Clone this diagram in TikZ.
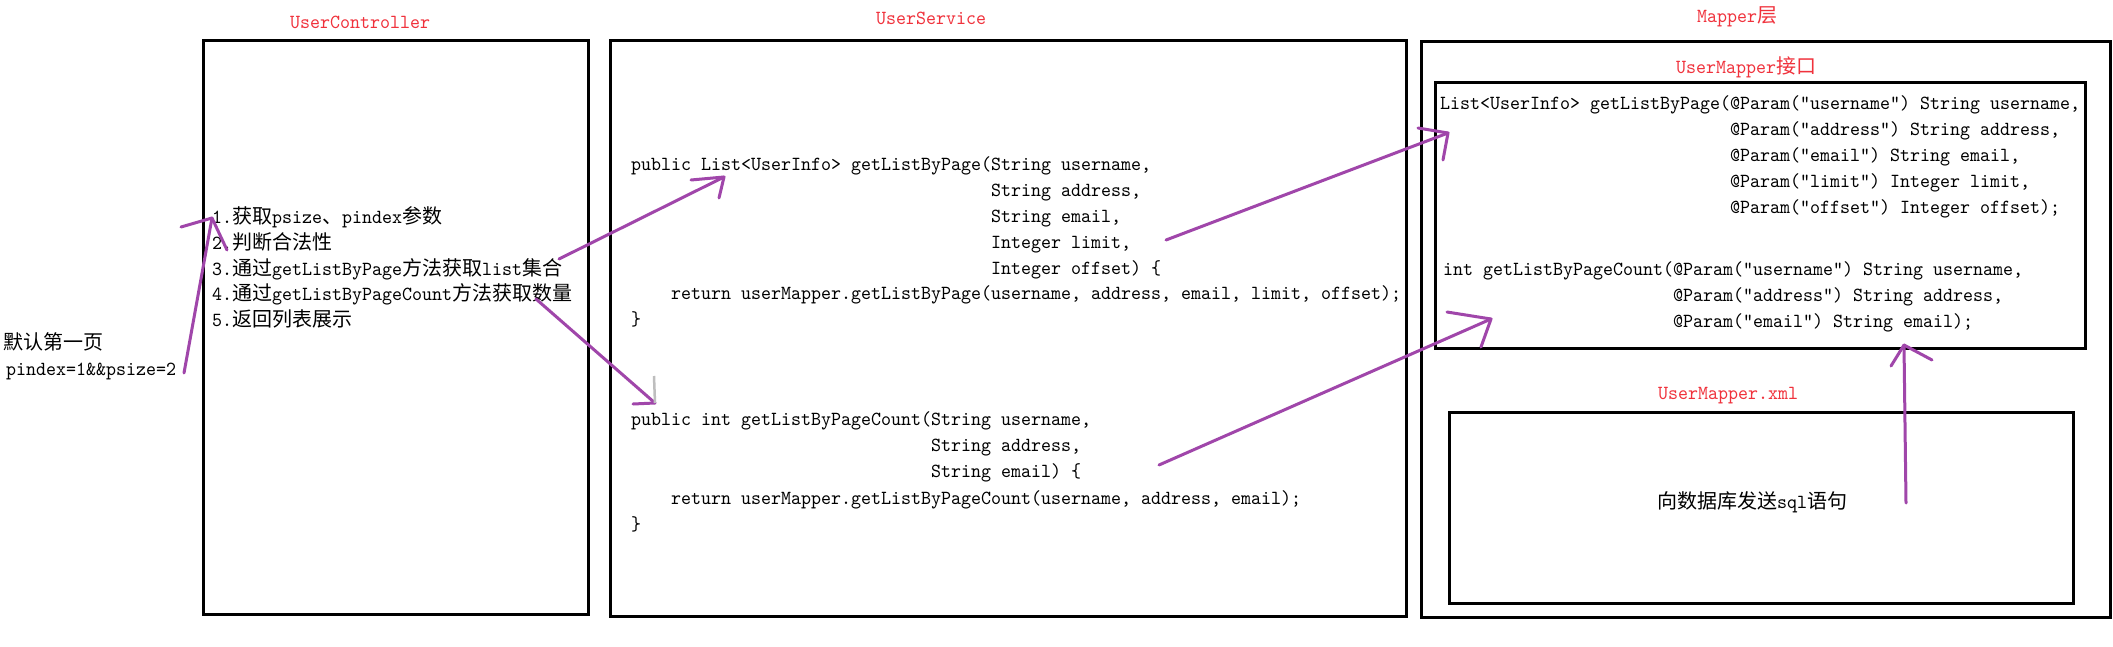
\documentclass[tikz,border=0pt]{standalone}
\usepackage{fontspec}
\setmonofont[FakeStretch=0.9524]{lmmono10-regular.otf}
\newfontfamily\cjk{Noto Sans CJK SC}
\definecolor{lblred}{RGB}{240,50,60}
\definecolor{arrpurple}{RGB}{160,70,170}
\definecolor{cursorgray}{RGB}{190,190,190}
\tikzset{
  box/.style={draw=black,line width=3pt},
  code/.style={font=\ttfamily\fontsize{20}{26}\selectfont,inner sep=0pt,anchor=base west},
  lbl/.style={font=\ttfamily\fontsize{20}{26}\selectfont,text=lblred,inner sep=0pt,anchor=center},
  arr/.style={draw=arrpurple,line width=3pt,line cap=round,line join=round},
}
\begin{document}
\begin{tikzpicture}[x=1pt,y=-1pt]
\useasboundingbox (0,0) rectangle (2113,646);
\fill[white] (0,0) rectangle (2113,646);

% boxes
\draw[box] (203,40) rectangle (588,614);
\draw[box] (610,40) rectangle (1406,616);
\draw[box] (1421,41) rectangle (2110,617);
\draw[box] (1435,82) rectangle (2085,348);
\draw[box] (1449,412) rectangle (2073,603);

% labels
\node[lbl] (lctrl) at (360,22) {UserController};
\node[lbl] (lsvc) at (931,18) {UserService};
\node[lbl] (lmap) at (1737,17) {Mapper{\cjk 层}};
\node[lbl] (liface) at (1746,67) {UserMapper{\cjk 接口}};
\node[lbl] (lxml) at (1728,396) {UserMapper.xml};

% left notes
\node[code] (n1) at (3,349) {\cjk 默认第一页};
\node[code] (n2) at (6,375) {pindex=1\&\&psize=2};

% controller steps
\node[code] (s1) at (212,223) {1.{\cjk 获取}psize{\cjk 、}pindex{\cjk 参数}};
\node[code] (s2) at (212,249) {2.{\cjk 判断合法性}};
\node[code] (s3) at (212,275) {3.{\cjk 通过}getListByPage{\cjk 方法获取}list{\cjk 集合}};
\node[code] (s4) at (212,300) {4.{\cjk 通过}getListByPageCount{\cjk 方法获取数量}};
\node[code] (s5) at (212,326) {5.{\cjk 返回列表展示}};

% service code 1
\node[code] (a1) at (631,170) {public List<UserInfo> getListByPage(String username,};
\node[code] (a2) at (991,196) {String address,};
\node[code] (a3) at (991,222) {String email,};
\node[code] (a4) at (991,248) {Integer limit,};
\node[code] (a5) at (991,274) {Integer offset) \{};
\node[code] (a6) at (671,299) {return userMapper.getListByPage(username, address, email, limit, offset);};
\node[code] (a7) at (631,325) {\}};

% service code 2
\node[code] (b1) at (631,425) {public int getListByPageCount(String username,};
\node[code] (b2) at (931,451) {String address,};
\node[code] (b3) at (931,477) {String email) \{};
\node[code] (b4) at (671,504) {return userMapper.getListByPageCount(username, address, email);};
\node[code] (b5) at (631,530) {\}};

% mapper interface
\node[code] (m1) at (1440,109) {List<UserInfo> getListByPage(@Param("username") String username,};
\node[code] (m2) at (1730,135) {@Param("address") String address,};
\node[code] (m3) at (1730,161) {@Param("email") String email,};
\node[code] (m4) at (1730,187) {@Param("limit") Integer limit,};
\node[code] (m5) at (1730,213) {@Param("offset") Integer offset);};
\node[code] (c1) at (1443,275) {int getListByPageCount(@Param("username") String username,};
\node[code] (c2) at (1673,301) {@Param("address") String address,};
\node[code] (c3) at (1673,327) {@Param("email") String email);};

% xml text
\node[font=\ttfamily\fontsize{20}{26}\selectfont,inner sep=0pt] (x1) at (1752,502) {{\cjk 向数据库发送}sql{\cjk 语句}};

% arrow coordinates
\coordinate (At) at (184,373); \coordinate (Ah) at (212,218);
\coordinate (Bt) at (559,259); \coordinate (Bh) at (724,177);
\coordinate (Ct) at (536,299); \coordinate (Ch) at (655,403);
\coordinate (Dt) at (1166,240); \coordinate (Dh) at (1448,133);
\coordinate (Et) at (1159,465); \coordinate (Eh) at (1491,319);
\coordinate (Ft) at (1906,503); \coordinate (Fh) at (1904,345);

% arrows (hand-drawn style)
\draw[arr] (At) -- (Ah);
\draw[arr] (181,227) -- (Ah) -- (227,250);
\draw[arr] (Bt) -- (Bh);
\draw[arr] (691,180) -- (Bh) -- (719,198);
\draw[arr] (Ct) -- (Ch);
\draw[arr] (633,404) -- (Ch);
\draw[draw=cursorgray,line width=2.5pt] (Ch) -- (654,376);
\draw[arr] (Dt) -- (Dh);
\draw[arr] (1418,128) -- (Dh) -- (1443,160);
\draw[arr] (Et) -- (Eh);
\draw[arr] (1447,312) -- (Eh) -- (1481,347);
\draw[arr] (Ft) -- (Fh);
\draw[arr] (1891,366) -- (Fh) -- (1932,360);
\end{tikzpicture}
\end{document}
